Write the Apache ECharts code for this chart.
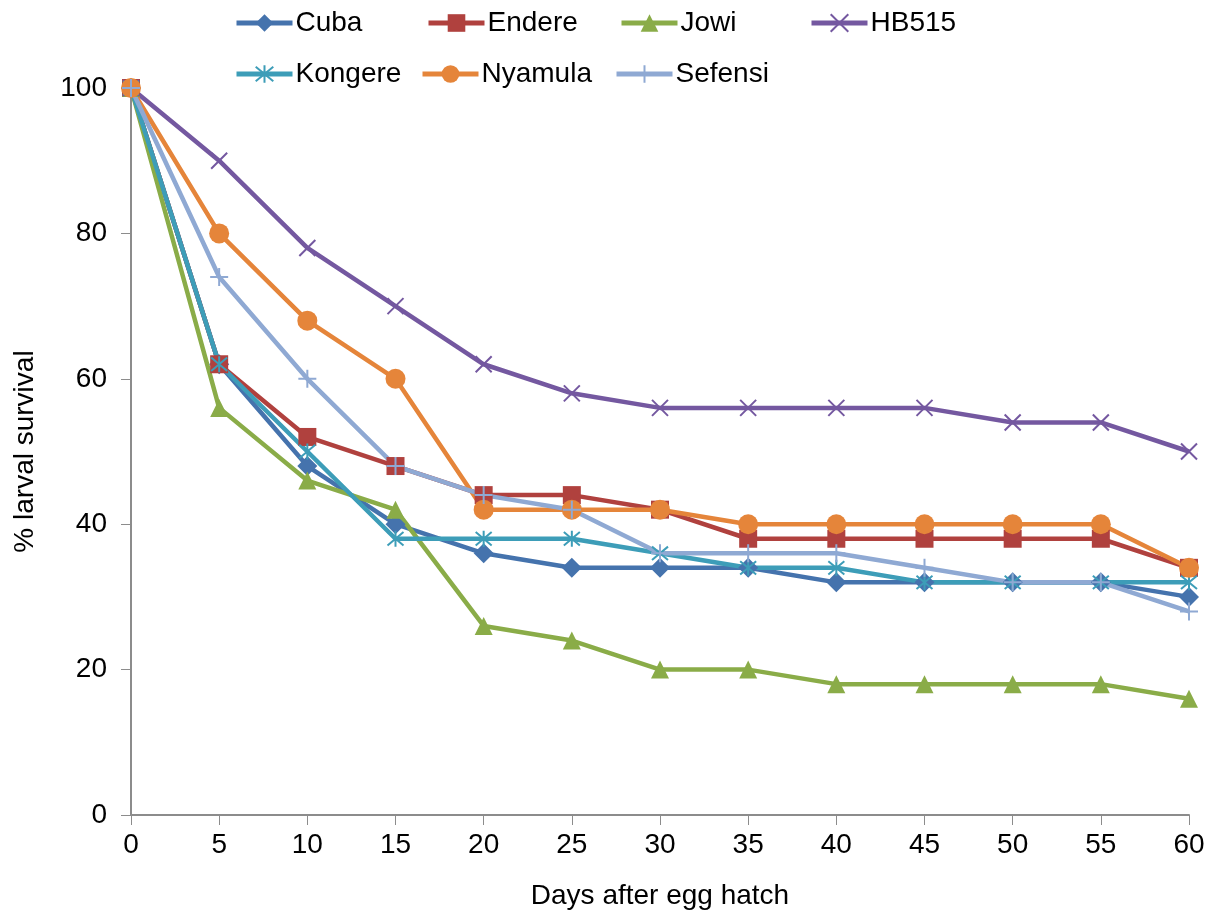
<!DOCTYPE html>
<html>
<head>
<meta charset="utf-8">
<script src="https://cdn.jsdelivr.net/npm/echarts@6/dist/echarts.min.js"></script>
<style>
  html, body { margin: 0; padding: 0; background: #fff; }
  #chart { width: 1216px; height: 919px; }
</style>
</head>
<body>
<div id="chart"></div>
<script>
const days = [0, 5, 10, 15, 20, 25, 30, 35, 40, 45, 50, 55, 60];
const cuba    = [100, 62, 48, 40, 36, 34, 34, 34, 32, 32, 32, 32, 30];
const endere  = [100, 62, 52, 48, 44, 44, 42, 38, 38, 38, 38, 38, 34];
const jowi    = [100, 56, 46, 42, 26, 24, 20, 20, 18, 18, 18, 18, 16];
const hb515   = [100, 90, 78, 70, 62, 58, 56, 56, 56, 56, 54, 54, 50];
const kongere = [100, 62, 50, 38, 38, 38, 36, 34, 34, 32, 32, 32, 32];
const nyamula = [100, 80, 68, 60, 42, 42, 42, 40, 40, 40, 40, 40, 34];
const sefensi = [100, 74, 60, 48, 44, 42, 36, 36, 36, 34, 32, 32, 28];

const font = 'Liberation Sans, Arial, sans-serif';

// name, values, colour, symbol, size, stroked (open path symbols)
const defs = [
  ['Cuba', cuba, '#4573ad', 'diamond', 20, false],
  ['Endere', endere, '#b0413e', 'rect', 18, false],
  ['Jowi', jowi, '#8aac48', 'triangle', 18, false],
  ['HB515', hb515, '#7458a0', 'path://M0,0L10,10M10,0L0,10', 16, true],
  ['Kongere', kongere, '#3d9db8', 'path://M0,0L10,10M10,0L0,10M5,-1L5,11', 16, true],
  ['Nyamula', nyamula, '#e5853a', 'circle', 20, false],
  ['Sefensi', sefensi, '#8fa9d3', 'path://M5,0L5,10M0,5L10,5', 18, true]
];

// legend spots (layout only)
const legendPos = [
  [234, 9], [426, 9], [619, 9], [809, 9],
  [234, 60], [420, 60], [614, 60]
];

const chart = echarts.init(document.getElementById('chart'));

const series = defs.map(function (d) {
  return {
    name: d[0],
    type: 'line',
    data: days.map(function (x, i) { return [x, d[1][i]]; }),
    symbol: d[3],
    symbolSize: d[4],
    showAllSymbol: true,
    lineStyle: { color: d[2], width: 4.5 },
    itemStyle: d[5]
      ? { color: d[2], borderColor: d[2], borderWidth: 2 }
      : { color: d[2], borderWidth: 0 },
    emphasis: { disabled: true },
    z: 2
  };
});

const legends = defs.map(function (d, i) {
  return {
    data: [d[0]],
    left: legendPos[i][0],
    top: legendPos[i][1],
    itemWidth: 56,
    itemHeight: 22,
    itemGap: 0,
    padding: 0,
    lineStyle: { width: 5 },
    textStyle: { fontFamily: font, fontSize: 28, color: '#000', padding: [0, 0, 0, -2] },
    selectedMode: false
  };
});

chart.setOption({
  animation: false,
  backgroundColor: '#fff',
  legend: legends,
  grid: { left: 131, right: 27, top: 88, bottom: 104 },
  xAxis: {
    type: 'value',
    min: 0,
    max: 60,
    interval: 5,
    name: 'Days after egg hatch',
    nameLocation: 'middle',
    nameGap: 67,
    nameTextStyle: { fontFamily: font, fontSize: 28, color: '#000' },
    axisLine: { lineStyle: { color: '#8c8c8c', width: 2 } },
    axisTick: { show: true, length: 10, lineStyle: { color: '#8c8c8c', width: 1 } },
    axisLabel: { fontFamily: font, fontSize: 28, color: '#000', margin: 16 },
    splitLine: { show: false }
  },
  yAxis: {
    type: 'value',
    min: 0,
    max: 100,
    interval: 20,
    name: '% larval survival',
    nameLocation: 'middle',
    nameGap: 92,
    nameTextStyle: { fontFamily: font, fontSize: 28, color: '#000' },
    axisLine: { show: true, lineStyle: { color: '#8c8c8c', width: 2 } },
    axisTick: { show: true, length: 10, lineStyle: { color: '#8c8c8c', width: 1 } },
    axisLabel: { fontFamily: font, fontSize: 28, color: '#000', margin: 24 },
    splitLine: { show: false }
  },
  series: series
});
</script>
</body>
</html>
